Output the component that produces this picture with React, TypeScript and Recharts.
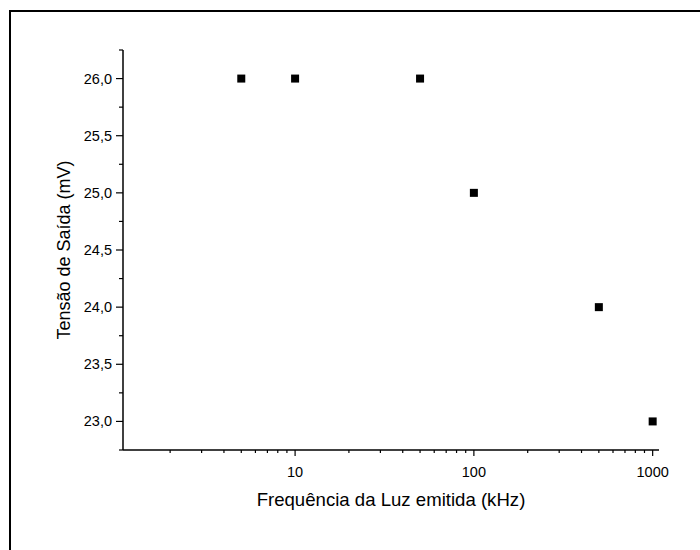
import React from 'react';
import { ScatterChart, Scatter, XAxis, YAxis } from 'recharts';

const freqKHz = [5, 10, 50, 100, 500, 1000];
const tensaoMV = [26.0, 26.0, 26.0, 25.0, 24.0, 23.0];

const xMajorTicks = [10, 100, 1000];
const xMinorTicks = [2, 3, 4, 5, 6, 7, 8, 9, 20, 30, 40, 50, 60, 70, 80, 90, 200, 300, 400, 500, 600, 700, 800, 900];
const yMajorTicks = [23.0, 23.5, 24.0, 24.5, 25.0, 25.5, 26.0];
const yMinorTicks = [22.75, 23.25, 23.75, 24.25, 24.75, 25.25, 25.75, 26.25];

const data = freqKHz.map((f, i) => ({ f, v: tensaoMV[i] }));
const xTicks = [...xMinorTicks, ...xMajorTicks].sort((a, b) => a - b);
const yTicks = [...yMinorTicks, ...yMajorTicks].sort((a, b) => a - b);

const FONT = '"Liberation Sans", Arial, Helvetica, sans-serif';

function XTick({ x, y, payload }: any) {
  const major = xMajorTicks.includes(payload.value);
  return (
    <g>
      <line x1={x} y1={y} x2={x} y2={y + (major ? 6 : 3)} stroke="#000" strokeWidth={1.2} />
      {major && (
        <text x={x} y={y + 27} textAnchor="middle" fontSize={14.5} fontFamily={FONT} fill="#000">
          {payload.value}
        </text>
      )}
    </g>
  );
}

function YTick({ x, y, payload }: any) {
  const major = yMajorTicks.includes(payload.value);
  return (
    <g>
      <line x1={x} y1={y} x2={x - (major ? 7 : 4)} y2={y} stroke="#000" strokeWidth={1.2} />
      {major && (
        <text x={x - 11} y={y + 5} textAnchor="end" fontSize={14.5} fontFamily={FONT} fill="#000">
          {payload.value.toFixed(1).replace('.', ',')}
        </text>
      )}
    </g>
  );
}

const square = ({ cx, cy }: any) => <rect x={cx - 4} y={cy - 4} width={8} height={8} fill="#000" />;

export default function App() {
  return (
    <div style={{ position: 'absolute', left: 0, top: 0, width: 700, height: 550, overflow: 'hidden', background: '#fff' }}>
      <div
        style={{
          position: 'absolute',
          left: 9,
          top: 10,
          width: 720,
          height: 580,
          borderTop: '2px solid #000',
          borderLeft: '2px solid #000',
        }}
      />
      <div style={{ position: 'absolute', left: 0, top: 0 }}>
        <ScatterChart width={700} height={550} margin={{ top: 50, right: 41, bottom: 60, left: 63 }}>
          <XAxis
            dataKey="f"
            type="number"
            scale="log"
            domain={[1.09, 1085]}
            ticks={xTicks}
            interval={0}
            tick={<XTick />}
            tickLine={false}
            tickSize={0}
            tickMargin={0}
            height={40}
            axisLine={{ stroke: '#000', strokeWidth: 1.5 }}
            label={(props: any) => {
              const vb = props.viewBox;
              return (
                <text x={vb.x + vb.width / 2} y={506} textAnchor="middle" fontSize={18.6} fontFamily={FONT} fill="#000">
                  Frequência da Luz emitida (kHz)
                </text>
              );
            }}
          />
          <YAxis
            dataKey="v"
            type="number"
            domain={[22.75, 26.25]}
            ticks={yTicks}
            interval={0}
            tick={<YTick />}
            tickLine={false}
            tickSize={0}
            tickMargin={0}
            width={60}
            axisLine={{ stroke: '#000', strokeWidth: 1.5 }}
            label={(props: any) => {
              const vb = props.viewBox;
              const cy = vb.y + vb.height / 2;
              return (
                <text
                  x={70}
                  y={cy}
                  transform={`rotate(-90, 70, ${cy})`}
                  textAnchor="middle"
                  fontSize={18}
                  fontFamily={FONT}
                  fill="#000"
                >
                  Tensão de Saída (mV)
                </text>
              );
            }}
          />
          <Scatter data={data} shape={square} isAnimationActive={false} />
        </ScatterChart>
      </div>
    </div>
  );
}
